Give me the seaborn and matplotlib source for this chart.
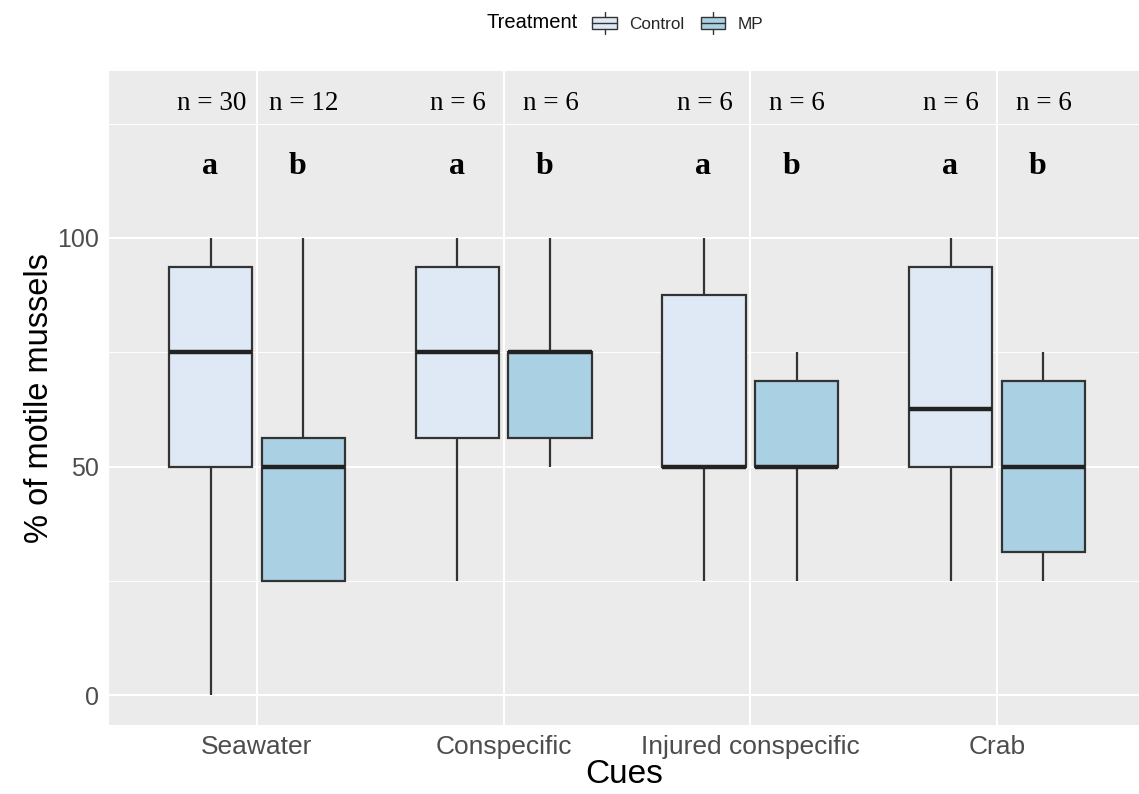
import pandas as pd
import matplotlib
matplotlib.use('Agg')  # no display
import matplotlib.pyplot as plt
from matplotlib.patches import Patch, Rectangle
from matplotlib.lines import Line2D
from matplotlib.legend_handler import HandlerBase
from matplotlib.ticker import MultipleLocator
import seaborn as sns

# ---- data ----------------------------------------------------------------
cues = ['Seawater', 'Conspecific', 'Injured conspecific', 'Crab']
treatments = ['Control', 'MP']

# % of motile mussels per trial
seawater_control = [0, 25, 25, 25, 50, 50, 50, 50, 50, 50, 50, 50,
                    75, 75, 75, 75, 75, 75, 75, 75, 75, 75,
                    100, 100, 100, 100, 100, 100, 100, 100]
seawater_mp = [25, 25, 25, 25, 50, 50, 50, 50, 50, 75, 75, 100]
conspecific_control = [25, 50, 75, 75, 100, 100]
conspecific_mp = [50, 50, 75, 75, 75, 100]
injured_control = [25, 50, 50, 50, 100, 100]
injured_mp = [25, 50, 50, 50, 75, 75]
crab_control = [25, 50, 50, 75, 100, 100]
crab_mp = [25, 25, 50, 50, 75, 75]

n_labels = ['n = 30', 'n = 12', 'n = 6', 'n = 6', 'n = 6', 'n = 6', 'n = 6', 'n = 6']
letters = ['a', 'b', 'a', 'b', 'a', 'b', 'a', 'b']

groups = {
    ('Seawater', 'Control'): seawater_control,
    ('Seawater', 'MP'): seawater_mp,
    ('Conspecific', 'Control'): conspecific_control,
    ('Conspecific', 'MP'): conspecific_mp,
    ('Injured conspecific', 'Control'): injured_control,
    ('Injured conspecific', 'MP'): injured_mp,
    ('Crab', 'Control'): crab_control,
    ('Crab', 'MP'): crab_mp,
}
rows = []
for (cue, trt), vals in groups.items():
    for v in vals:
        rows.append({'cue': cue, 'treatment': trt, 'pct': v})
df = pd.DataFrame(rows)

colors = {'Control': '#DEE9F5', 'MP': '#AAD0E4'}
edge = '#333333'


class BoxHandler(HandlerBase):
    # ggplot-like boxplot key
    def create_artists(self, legend, orig_handle, xdescent, ydescent,
                       width, height, fontsize, trans):
        x0, y0 = -xdescent, -ydescent
        rect = Rectangle((x0 + 0.08 * width, y0 + 0.2 * height), 0.84 * width, 0.6 * height,
                         facecolor=orig_handle.get_facecolor(), edgecolor=edge, lw=1.0,
                         transform=trans)
        xm = x0 + width / 2
        med = Line2D([x0 + 0.08 * width, x0 + 0.92 * width], [y0 + 0.5 * height] * 2,
                     color=edge, lw=1.0, transform=trans)
        w1 = Line2D([xm, xm], [y0 - 0.05 * height, y0 + 0.2 * height], color=edge, lw=1.0, transform=trans)
        w2 = Line2D([xm, xm], [y0 + 0.8 * height, y0 + 1.05 * height], color=edge, lw=1.0, transform=trans)
        return [rect, med, w1, w2]


# ---- style ---------------------------------------------------------------
sns.set_style('darkgrid', {'axes.facecolor': '#EBEBEB', 'grid.color': 'white'})
plt.rcParams['font.family'] = ['Liberation Sans', 'DejaVu Sans']

fig = plt.figure(figsize=(11.39, 7.94), dpi=100)
ax = fig.add_axes([109 / 1139, 1 - 725 / 794, 1 - 109 / 1139, (725 - 71) / 794])

sns.boxplot(data=df, x='cue', y='pct', hue='treatment', order=cues, hue_order=treatments,
            palette=colors, saturation=1, width=0.75, gap=0.1, linecolor=edge, linewidth=1.6,
            showcaps=False, fliersize=0, legend=False,
            medianprops={'linewidth': 3.2, 'color': '#222222'}, ax=ax)

# annotations: sample sizes and significance letters
n_off = [-0.185, 0.19]
let_off = [-0.19, 0.165]
for i, cue in enumerate(cues):
    for j in range(2):
        k = 2 * i + j
        ax.text(i + n_off[j], 128, n_labels[k], ha='center', va='baseline',
                fontsize=19.5, family=['Liberation Serif', 'DejaVu Serif'], color='black')
        ax.text(i + let_off[j], 114, letters[k], ha='center', va='baseline',
                fontsize=23, fontweight='bold', family=['Liberation Serif', 'DejaVu Serif'],
                color='black')

ax.set_xlim(-0.6, 3.6 - 6 / 246.7)
ax.set_ylim(-6.5, 136.5)
ax.set_yticks([0, 50, 100])
ax.yaxis.set_minor_locator(MultipleLocator(25))
ax.set_axisbelow(True)
ax.grid(which='major', color='white', lw=1.5)
ax.grid(which='minor', axis='y', color='white', lw=0.7)
ax.grid(which='minor', axis='x', visible=False)
for s in ax.spines.values():
    s.set_visible(False)
ax.tick_params(which='major', length=4, width=1.0, color=edge, pad=3)
ax.tick_params(which='minor', length=0)
ax.tick_params(axis='x', labelsize=19, labelcolor='#4D4D4D')
ax.tick_params(axis='y', labelsize=18, labelcolor='#4D4D4D')

ax.set_xlabel('Cues', fontsize=24, color='black', labelpad=0)
ax.set_ylabel('% of motile mussels', fontsize=23.5, color='black', labelpad=2)

# legend on top: title to the left of the keys
fig.text(578 / 1139, 1 - 23 / 794, 'Treatment', ha='right', va='center', fontsize=14.5, color='black')
handles = [Patch(facecolor=colors[t], label=t) for t in treatments]
fig.legend(handles=handles, loc='center left', bbox_to_anchor=(590 / 1139, 1 - 23 / 794),
           ncol=2, frameon=False, fontsize=12.3, handler_map={Patch: BoxHandler()},
           handlelength=1.7, handleheight=1.4, handletextpad=0.6, columnspacing=0.8,
           borderpad=0, borderaxespad=0)

fig.savefig('out.png', dpi=100, facecolor='white')
